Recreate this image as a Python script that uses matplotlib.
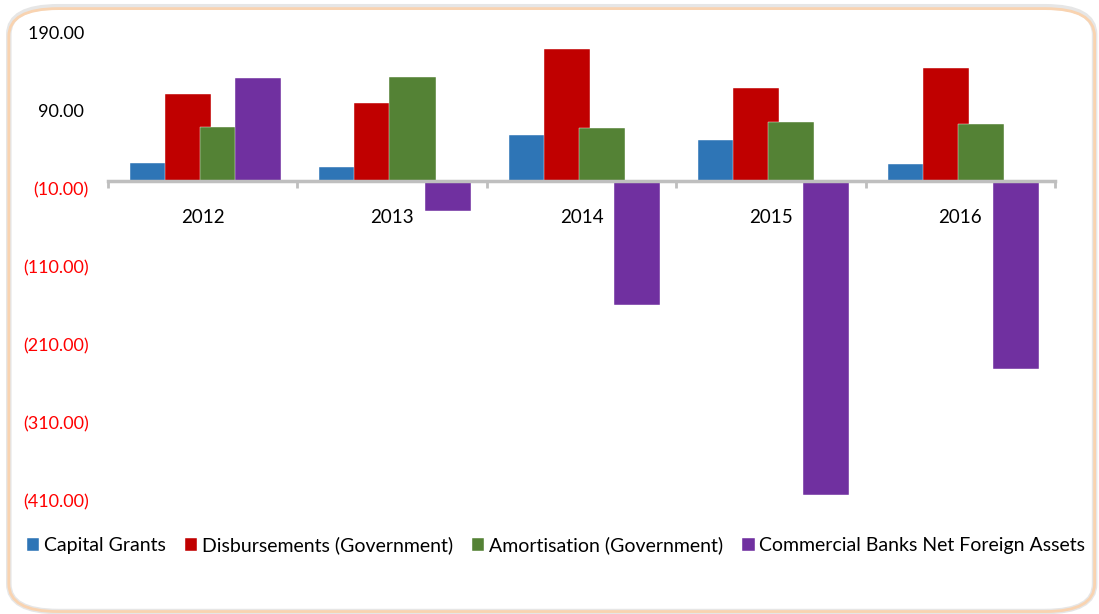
import numpy as np
import matplotlib.pyplot as plt
from matplotlib.patches import FancyBboxPatch
from matplotlib.ticker import FuncFormatter

plt.rcParams['font.family'] = ['Lato', 'DejaVu Sans']

years = ['2012', '2013', '2014', '2015', '2016']
capital_grants = [22.5, 17.5, 59.0, 52.0, 21.5]
disbursements = [111.5, 99.5, 169.0, 119.5, 144.5]
amortisation = [69.0, 133.0, 68.0, 75.5, 73.5]
cb_nfa = [131.5, -38.0, -159.0, -402.5, -241.0]

series = [
    ('Capital Grants', capital_grants, '#2E75B6'),
    ('Disbursements (Government)', disbursements, '#C00000'),
    ('Amortisation (Government)', amortisation, '#548235'),
    ('Commercial Banks Net Foreign Assets', cb_nfa, '#7030A0'),
]

fig = plt.figure(figsize=(10.99, 6.14), dpi=100)

# rounded frame around the whole chart
shadow = FancyBboxPatch((0.008, 0.004), 0.988, 0.985, transform=fig.transFigure,
                        boxstyle='round,pad=0,rounding_size=0.045',
                        facecolor='none', edgecolor='#E6E6E6', lw=4.0, zorder=-1)
fig.patches.append(shadow)
frame = FancyBboxPatch((0.008, 0.004), 0.988, 0.982, transform=fig.transFigure,
                       boxstyle='round,pad=0,rounding_size=0.045',
                       facecolor='none', edgecolor='#F9D3B0', lw=2.0, zorder=0)
fig.patches.append(frame)

ax = fig.add_axes([0.0983, 0.1840, 0.8617, 0.7630])
ax.patch.set_alpha(0)

x = np.arange(len(years))
width = 0.243
step = 0.185
for i, (name, vals, color) in enumerate(series):
    ax.bar(x + 0.015 + (i - 1.5) * step, vals, width, color=color, label=name,
           edgecolor='white', linewidth=0.3)

ax.set_xlim(-0.5, len(years) - 0.5)
ax.set_ylim(-410, 190)
ax.set_yticks(np.arange(-410, 191, 100))


def fmt(v, pos):
    if v < 0:
        return '(%.2f)' % abs(v)
    return '%.2f ' % v


ax.yaxis.set_major_formatter(FuncFormatter(fmt))
ax.tick_params(axis='y', length=0, labelsize=13, pad=14)
for lab in ax.get_yticklabels():
    if lab.get_text().startswith('('):
        lab.set_color('#FF0000')

for s in ['top', 'right', 'left']:
    ax.spines[s].set_visible(False)
ax.spines['bottom'].set_position(('data', 0))
ax.spines['bottom'].set_color('#BFBFBF')
ax.spines['bottom'].set_linewidth(2.5)

ax.set_xticks(x)
ax.set_xticklabels(years)
ax.set_xticks(np.arange(-0.5, len(years), 1), minor=True)
ax.tick_params(axis='x', which='major', length=0, labelsize=13.5, pad=20)
ax.tick_params(axis='x', which='minor', length=5, width=2, color='#BFBFBF')

fig.legend(loc='center', bbox_to_anchor=(0.506, 0.112), ncol=4, frameon=False,
           fontsize=14, handlelength=0.65, handleheight=0.7, handletextpad=0.25,
           columnspacing=0.95)

fig.savefig('out.png', dpi=100)
